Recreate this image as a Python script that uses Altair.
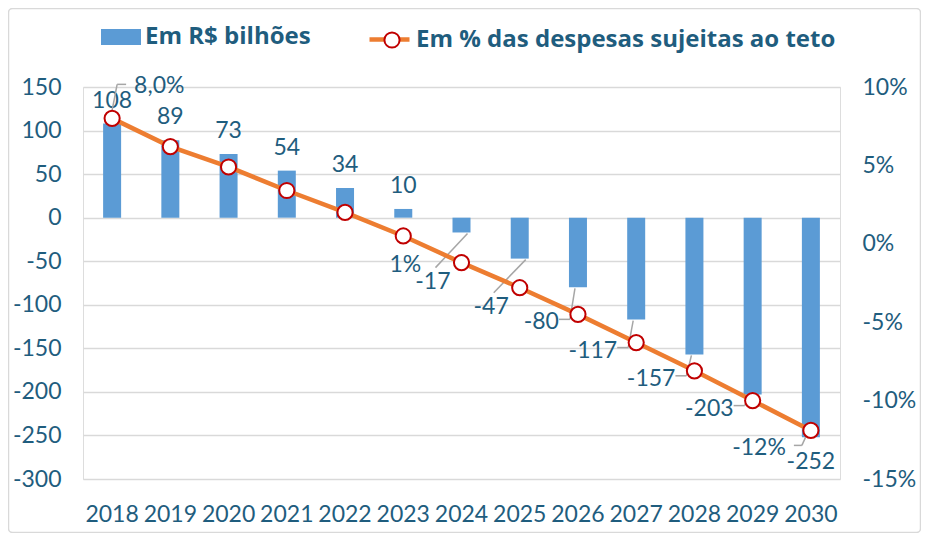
import altair as alt
import pandas as pd

anos = ["2018", "2019", "2020", "2021", "2022", "2023", "2024",
        "2025", "2026", "2027", "2028", "2029", "2030"]
em_bilhoes = [108, 89, 73, 54, 34, 10, -17, -47, -80, -117, -157, -203, -252]
em_pct = [8.0, 6.2, 4.9, 3.4, 2.0, 0.5, -1.2, -2.8, -4.5, -6.3, -8.1, -10.0, -11.9]
rotulos_bi = ["108", "89", "73", "54", "34", "10", "-17", "-47", "-80",
              "-117", "-157", "-203", "-252"]
rotulos_pct = ["8,0%", "", "", "", "", "1%", "", "", "", "", "", "", "-12%"]
ticks_esq = [-300, -250, -200, -150, -100, -50, 0, 50, 100, 150]
ticks_dir = [-15, -10, -5, 0, 5, 10]

serie_bar = "Em R$ bilhões"
serie_lin = "Em % das despesas sujeitas ao teto"

TEXT = "#1F5D7E"
BLUE = "#5B9BD5"
ORANGE = "#ED7D31"
RED = "#C00000"
GRID = "#D9D9D9"
LEADER = "#A6A6A6"
FONT = "Lato"
LFONT = "Open Sans"
FS = 23

df = pd.DataFrame({"ano": anos, "bi": em_bilhoes, "pct": em_pct,
                   "rbi": rotulos_bi, "lab": rotulos_pct})
df["serie"] = serie_bar
df["serie2"] = serie_lin
df["marc"] = " "

base = alt.Chart(df)

x_enc = alt.X("ano:N", sort=anos,
              scale=alt.Scale(paddingInner=0, paddingOuter=0),
              axis=alt.Axis(title=None, labelAngle=0, ticks=False, domain=False,
                            labelPadding=24, labelFontSize=FS, labelColor=TEXT,
                            labelFont=FONT, grid=False))


def y_left(field):
    return alt.Y(field, type="quantitative",
                 scale=alt.Scale(domain=[-300, 150], nice=False, zero=False),
                 axis=alt.Axis(title=None, orient="left", values=ticks_esq, grid=True,
                               gridColor=GRID, gridWidth=1.5, ticks=False, domain=False,
                               labelPadding=22, labelFontSize=FS, labelColor=TEXT,
                               labelFont=FONT, labelExpr="toString(datum.value)"))


def y_right(field):
    return alt.Y(field, type="quantitative",
                 scale=alt.Scale(domain=[-15, 10], nice=False, zero=False),
                 axis=alt.Axis(title=None, orient="right", values=ticks_dir, grid=False,
                               ticks=False, domain=False, labelPadding=22,
                               labelFontSize=FS, labelColor=TEXT, labelFont=FONT,
                               labelExpr="toString(datum.value) + '%'"))


leg_common = dict(orient="none", title=None, labelFont=LFONT, labelFontSize=24,
                  labelFontWeight="bold", labelColor=TEXT, labelOffset=4, padding=0,
                  labelLimit=1000)

frame = alt.Chart(alt.Data(values=[{"a": 1}])).mark_rect(
    fill="transparent", stroke=GRID, strokeWidth=1.5, cornerRadius=4
).encode(x=alt.value(-74.5), x2=alt.value(757 + 80.5),
         y=alt.value(-78.5), y2=alt.value(392 + 53.5))

bars = base.mark_bar(size=18).encode(
    x=x_enc, y=y_left("bi"),
    color=alt.Color("serie:N", scale=alt.Scale(range=[BLUE]),
                    legend=alt.Legend(legendX=18, legendY=-70,
                                      symbolType="M-1,-0.4L1,-0.4L1,0.4L-1,0.4Z",
                                      symbolSize=1600, symbolStrokeWidth=0,
                                      **leg_common)))

txt = dict(font=FONT, fontSize=FS, color=TEXT, baseline="middle")

pos_labels = base.transform_filter("datum.bi > 0").mark_text(
    dy=-23, align="center", **txt
).encode(x=x_enc, y=y_left("bi"), text="rbi:N")

last_label = base.transform_filter("datum.ano == '2030'").mark_text(
    dy=25, align="center", **txt
).encode(x=x_enc, y=y_left("bi"), text="rbi:N")

# negative labels, placed beside the line point (converted to left-axis units)
neg1 = base.transform_filter("datum.ano == '2024' || datum.ano == '2025'").transform_calculate(
    laby="18 * datum.pct - 30")
neg2 = base.transform_filter(
    "datum.bi < 0 && datum.ano != '2024' && datum.ano != '2025' && datum.ano != '2030'"
).transform_calculate(laby="18 * datum.pct - 30")

neg1_labels = neg1.mark_text(dx=-11, dy=19, align="right", **txt).encode(
    x=x_enc, y=y_left("laby"), text="rbi:N")
neg2_labels = neg2.mark_text(dx=-19, dy=8, align="right", **txt).encode(
    x=x_enc, y=y_left("laby"), text="rbi:N")

neg1_leaders = neg1.mark_rule(
    color=LEADER, strokeWidth=1.5, xOffset=6, yOffset=1, x2Offset=-26, y2Offset=5
).encode(x=x_enc, x2="ano:N", y=y_left("bi"), y2="laby:Q")
neg2_leaders = neg2.mark_rule(
    color=LEADER, strokeWidth=1.5, xOffset=-3, yOffset=1, x2Offset=-8, y2Offset=5
).encode(x=x_enc, x2="ano:N", y=y_left("bi"), y2="laby:Q")
neg2_leaders_h = neg2.mark_rule(
    color=LEADER, strokeWidth=1.5, xOffset=-8, yOffset=5, x2Offset=-19, y2Offset=5
).encode(x=x_enc, x2="ano:N", y=y_left("laby"), y2="laby:Q")

left = alt.layer(frame, bars, pos_labels, last_label,
                 neg1_leaders, neg2_leaders, neg2_leaders_h,
                 neg1_labels, neg2_labels)

line = base.mark_line(strokeWidth=4.5).encode(
    x=x_enc, y=y_right("pct"),
    stroke=alt.Stroke("serie2:N", scale=alt.Scale(range=[ORANGE]),
                      legend=alt.Legend(legendX=284, legendY=-70,
                                        symbolType="M-1,0L1,0", symbolSize=1600,
                                        symbolStrokeWidth=4.5, symbolStrokeColor=ORANGE,
                                        zindex=0, **leg_common)))

points = base.mark_point(filled=False, fill="white", strokeWidth=2,
                         size=230, opacity=1, fillOpacity=1).encode(
    x=x_enc, y=y_right("pct"),
    color=alt.Color("marc:N", scale=alt.Scale(range=[RED]),
                    legend=alt.Legend(legendX=297, legendY=-59, symbolSize=230,
                                      symbolType="circle", symbolFillColor="white",
                                      symbolStrokeWidth=2, symbolOpacity=1,
                                      labelExpr="''", zindex=2,
                                      **leg_common)))

lab2018 = base.transform_filter("datum.ano == '2018'")
pct2018 = lab2018.mark_text(dx=22, dy=-32, align="left", **txt).encode(
    x=x_enc, y=y_right("pct"), text="lab:N")
lead2018 = lab2018.mark_rule(color=LEADER, strokeWidth=1.5, yOffset=-8,
                             x2Offset=5, y2Offset=-34).encode(
    x=x_enc, x2="ano:N", y=y_right("pct"), y2="pct:Q")
lead2018_h = lab2018.mark_rule(color=LEADER, strokeWidth=1.5, xOffset=5, yOffset=-34,
                               x2Offset=14, y2Offset=-34).encode(
    x=x_enc, x2="ano:N", y=y_right("pct"), y2="pct:Q")

pct2023 = base.transform_filter("datum.ano == '2023'").mark_text(
    dx=2, dy=29, align="center", **txt
).encode(x=x_enc, y=y_right("pct"), text="lab:N")

lab2030 = base.transform_filter("datum.ano == '2030'")
pct2030 = lab2030.mark_text(dx=-25, dy=18, align="right", **txt).encode(
    x=x_enc, y=y_right("pct"), text="lab:N")
lead2030 = lab2030.mark_rule(color=LEADER, strokeWidth=1.5, xOffset=-4, yOffset=4,
                             x2Offset=-9, y2Offset=15).encode(
    x=x_enc, x2="ano:N", y=y_right("pct"), y2="pct:Q")
lead2030_h = lab2030.mark_rule(color=LEADER, strokeWidth=1.5, xOffset=-9, yOffset=15,
                               x2Offset=-17, y2Offset=15).encode(
    x=x_enc, x2="ano:N", y=y_right("pct"), y2="pct:Q")

right = alt.layer(line, lead2018, lead2018_h, lead2030, lead2030_h, points,
                  pct2018, pct2023, pct2030)

chart = alt.layer(left, right).resolve_scale(
    y="independent", color="independent"
).properties(
    width=757, height=392,
    autosize=alt.AutoSizeParams(type="none"),
    padding={"left": 75, "top": 79, "right": 81, "bottom": 54},
).configure_view(stroke=None).configure(background="white")

chart.save("out.html", embed_options={"renderer": "svg", "actions": False})
